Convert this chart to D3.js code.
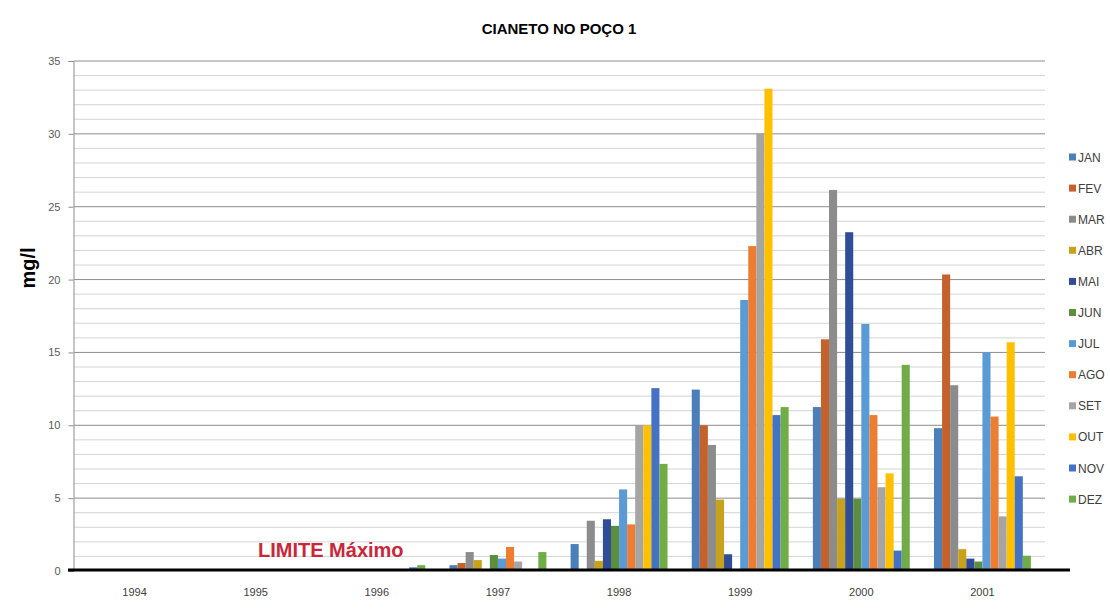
<!DOCTYPE html>
<html>
<head>
<meta charset="utf-8">
<script src="https://cdn.jsdelivr.net/npm/d3@7"></script>
<style>
  html, body { margin: 0; padding: 0; background: #fff; }
  svg { display: block; font-family: "Liberation Sans", Arial, sans-serif; }
</style>
</head>
<body>
<svg id="chart" width="1110" height="610"></svg>
<script>
// Cyanide concentration per month in well 1 (mg/l)
const anos = ["1994", "1995", "1996", "1997", "1998", "1999", "2000", "2001"];
const meses = ["JAN", "FEV", "MAR", "ABR", "MAI", "JUN", "JUL", "AGO", "SET", "OUT", "NOV", "DEZ"];

// One array per month, one value per year
const JAN = [0, 0, 0, 0.4, 1.85, 12.45, 11.25, 9.8];
const FEV = [0, 0, 0, 0.55, 0, 10.0, 15.9, 20.35];
const MAR = [0, 0, 0, 1.3, 3.45, 8.65, 26.15, 12.75];
const ABR = [0, 0, 0, 0.75, 0.7, 4.9, 4.95, 1.5];
const MAI = [0, 0, 0, 0, 3.55, 1.15, 23.25, 0.85];
const JUN = [0, 0, 0, 1.1, 3.1, 0, 4.95, 0.65];
const JUL = [0, 0, 0, 0.85, 5.6, 18.6, 16.95, 15.0];
const AGO = [0, 0, 0, 1.65, 3.2, 22.3, 10.7, 10.6];
const SET = [0, 0, 0, 0.65, 10.0, 30.05, 5.75, 3.75];
const OUT = [0, 0, 0.1, 0, 10.0, 33.1, 6.7, 15.7];
const NOV = [0, 0, 0.25, 0, 12.55, 10.7, 1.4, 6.5];
const DEZ = [0, 0, 0.4, 1.3, 7.35, 11.25, 14.15, 1.05];
const serie = [JAN, FEV, MAR, ABR, MAI, JUN, JUL, AGO, SET, OUT, NOV, DEZ];

const cores = ["#4a7fb9", "#c5622b", "#8c8c8c", "#c9a21b", "#2f4e97", "#5b8f3f",
               "#5b9bd5", "#ed7d31", "#a5a5a5", "#ffc000", "#4472c4", "#70ad47"];

const yTicks = [0, 5, 10, 15, 20, 25, 30, 35];
const limite = 0.07;

const svg = d3.select("#chart");

const x0 = d3.scaleBand().domain(anos).range([74, 1043]).paddingInner(0.2).paddingOuter(0.1);
const x1 = d3.scaleBand().domain(meses).range([0, x0.bandwidth()]).padding(0);
const y = d3.scaleLinear().domain([0, 35]).range([571, 61]);

// Title
svg.append("text")
  .attr("x", 559).attr("y", 34)
  .attr("text-anchor", "middle")
  .attr("font-size", 15).attr("font-weight", "bold").attr("fill", "#000")
  .text("CIANETO NO POÇO 1");

// Minor and major horizontal gridlines
const grid = svg.append("g");
grid.selectAll("line.minor")
  .data(d3.range(0, 36, 1).filter(v => v % 5 !== 0))
  .join("line")
  .attr("x1", 74).attr("x2", 1045)
  .attr("y1", d => y(d)).attr("y2", d => y(d))
  .attr("stroke", "#d4d4d4").attr("stroke-width", 1);
grid.selectAll("line.major")
  .data(yTicks.filter(v => v > 0))
  .join("line")
  .attr("x1", 74).attr("x2", 1045)
  .attr("y1", d => y(d)).attr("y2", d => y(d))
  .attr("stroke", "#8c8c8c").attr("stroke-width", 1);

// Vertical axis
const yAxis = svg.append("g")
  .attr("transform", "translate(73.5,0)")
  .call(d3.axisLeft(y).tickValues(yTicks).tickSize(5).tickPadding(8).tickFormat(d3.format("d")));
yAxis.select(".domain").attr("stroke", "#8c8c8c");
yAxis.selectAll(".tick line").attr("stroke", "#8c8c8c");
yAxis.selectAll(".tick text")
  .attr("font-size", 11).attr("fill", "#595959")
  .attr("font-family", "Liberation Sans, Arial, sans-serif");

// Axis title
svg.append("text")
  .attr("transform", "translate(35,268) rotate(-90)")
  .attr("text-anchor", "middle")
  .attr("font-size", 20).attr("font-weight", "bold").attr("fill", "#000")
  .text("mg/l");

// Bars
const grupos = svg.append("g").selectAll("g")
  .data(anos)
  .join("g")
  .attr("transform", d => `translate(${x0(d)},0)`);
grupos.selectAll("rect")
  .data((ano, i) => meses.map((m, j) => ({ mes: m, valor: serie[j][i], cor: cores[j] })))
  .join("rect")
  .attr("x", d => x1(d.mes))
  .attr("width", x1.bandwidth())
  .attr("y", d => y(d.valor))
  .attr("height", d => y(0) - y(d.valor))
  .attr("fill", d => d.cor);

// Category labels
const xAxis = svg.append("g")
  .attr("transform", "translate(0,571)")
  .call(d3.axisBottom(x0).tickSize(0).tickPadding(17));
xAxis.select(".domain").remove();
xAxis.selectAll(".tick text")
  .attr("font-size", 11).attr("fill", "#404040")
  .attr("font-family", "Liberation Sans, Arial, sans-serif");

// Maximum limit line
svg.append("line")
  .attr("x1", 68).attr("x2", 1070)
  .attr("y1", y(limite)).attr("y2", y(limite))
  .attr("stroke", "#000").attr("stroke-width", 3);
svg.append("text")
  .attr("x", 258).attr("y", 557)
  .attr("font-size", 20).attr("font-weight", "bold").attr("fill", "#c8283a")
  .text("LIMITE Máximo");

// Legend
const leg = svg.append("g").selectAll("g")
  .data(meses)
  .join("g")
  .attr("transform", (d, i) => `translate(1069,${157 + i * 31.1})`);
leg.append("rect")
  .attr("x", 0).attr("y", -3.5).attr("width", 7).attr("height", 7)
  .attr("fill", (d, i) => cores[i]);
leg.append("text")
  .attr("x", 9).attr("y", 4.5)
  .attr("font-size", 12).attr("fill", "#404040")
  .text(d => d);
</script>
</body>
</html>
